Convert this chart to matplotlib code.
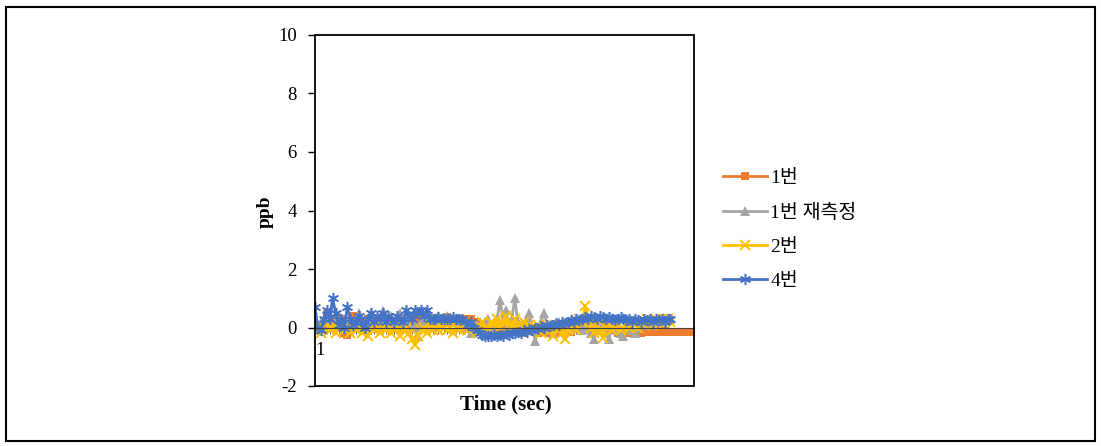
import matplotlib
matplotlib.use("Agg")
import matplotlib.pyplot as plt
from matplotlib.patches import Rectangle
import numpy as np

# ---- data ----
series_names = ["1번", "1번 재측정", "2번", "4번"]
s1 = [0.0, 0.1, 0.05, 0.2, 0.45, 0.1, 0.3, 0.0, 0.1, 0.3, -0.2, -0.25, 0.1, 0.4, 0.0, 0.1, 0.2, 0.1, 0.3, 0.0,
      0.2, 0.1, 0.2, 0.0, 0.1, 0.3, 0.1, 0.2, 0.0, 0.1, 0.2, 0.1, 0.3, 0.2, 0.1, 0.3, 0.2, 0.1, 0.2, 0.3,
      0.2, 0.3, 0.3, 0.2, 0.3, 0.35, 0.3, 0.2, 0.3, 0.3, 0.25, 0.3, 0.2, 0.3, 0.1, 0.2, 0.1, 0.0, 0.1, -0.1,
      0.0, -0.05, 0.1, -0.1, 0.0, -0.1, 0.1, -0.15, 0.0, -0.1, 0.05, -0.2, 0.0, -0.1, -0.05, 0.0, -0.2, -0.1, -0.15, 0.0,
      -0.2, -0.1, -0.2, -0.15, 0.0, -0.2, -0.1, -0.15, 0.0, 0.1, 0.0, -0.1, 0.05, 0.0, -0.1, 0.1, 0.0, -0.05, 0.1, -0.1,
      0.0, -0.05, -0.1, -0.2, -0.15, -0.2, -0.1, -0.2, -0.15, -0.2, -0.15, -0.2, -0.15, -0.1, -0.15, -0.15, -0.12, -0.15, -0.15, -0.13,
      -0.15, -0.15, -0.14, -0.15, -0.15, -0.16, -0.15, -0.15, -0.14, -0.15]
s1r = [0.1, -0.1, 0.2, 0.0, 0.15, 0.3, 0.0, 0.2, 0.4, 0.1, 0.2, 0.0, 0.3, 0.1, 0.2, 0.5, 0.2, 0.1, 0.3, 0.5,
       0.2, 0.0, 0.3, 0.55, 0.2, 0.1, 0.4, 0.2, 0.3, 0.5, 0.1, 0.2, 0.4, 0.0, 0.1, -0.3, 0.2, 0.3, 0.1, 0.4,
       0.2, 0.3, 0.4, 0.3, 0.2, 0.4, 0.3, 0.2, 0.3, 0.1, 0.2, 0.0, 0.1, -0.2, 0.0, 0.1, -0.1, 0.0, 0.2, 0.3,
       0.0, 0.1, 0.3, 0.95, 0.2, 0.6, 0.1, 0.3, 1.0, 0.2, 0.1, 0.0, 0.3, 0.5, -0.1, -0.45, 0.0, 0.2, 0.5, 0.1,
       0.0, -0.2, 0.1, 0.2, 0.0, -0.1, 0.1, 0.2, 0.0, 0.3, 0.1, -0.1, 0.0, 0.2, -0.2, -0.4, 0.0, 0.1, -0.1, -0.2,
       -0.4, 0.0, 0.1, -0.1, -0.2, -0.3, 0.0, 0.1, -0.1, -0.2, 0.0, 0.1, 0.2, 0.1, 0.2, 0.1, 0.2, 0.25, 0.2, 0.3,
       0.25, 0.3]
s2 = [-0.1, 0.1, -0.2, 0.0, 0.2, -0.1, 0.1, -0.2, 0.0, 0.2, -0.1, 0.0, -0.2, 0.1, -0.1, 0.0, -0.2, 0.1, -0.3, 0.0,
      -0.1, 0.1, -0.2, 0.0, -0.1, 0.1, -0.2, -0.1, 0.0, -0.3, -0.1, 0.0, -0.2, -0.4, -0.6, -0.3, -0.1, 0.0, -0.2, 0.1,
      -0.1, 0.0, -0.1, 0.1, 0.0, -0.1, 0.0, -0.2, 0.0, -0.1, 0.1, 0.0, -0.1, 0.1, 0.0, -0.2, 0.0, 0.2, -0.1, 0.0,
      0.2, 0.1, 0.3, 0.0, 0.2, 0.4, 0.1, 0.0, 0.3, 0.1, -0.1, 0.2, 0.0, 0.1, -0.1, 0.0, 0.1, -0.2, 0.0, 0.1,
      -0.1, -0.3, 0.0, 0.1, -0.2, -0.4, -0.1, 0.1, 0.0, -0.1, 0.3, 0.2, 0.75, 0.3, 0.0, -0.2, 0.1, -0.1, -0.35, 0.0,
      0.2, -0.1, 0.0, 0.1, -0.1, 0.0, 0.1, 0.0, 0.2, 0.1, 0.0, 0.2, 0.1, 0.3, 0.2, 0.1, 0.3, 0.2, 0.3, 0.2,
      0.3, 0.2]
s4 = [0.7, 0.0, -0.1, 0.3, 0.6, 0.3, 1.0, 0.5, 0.1, 0.3, 0.0, 0.7, 0.3, 0.1, 0.2, 0.4, 0.2, 0.0, 0.3, 0.5,
      0.2, 0.4, 0.3, 0.5, 0.2, 0.4, 0.3, 0.2, 0.4, 0.3, 0.2, 0.6, 0.4, 0.3, 0.6, 0.5, 0.6, 0.4, 0.6, 0.3,
      0.3, 0.3, 0.35, 0.3, 0.3, 0.3, 0.3, 0.35, 0.3, 0.3, 0.3, 0.2, 0.1, 0.2, 0.0, -0.1, -0.2, -0.25, -0.3, -0.3,
      -0.3, -0.25, -0.3, -0.25, -0.3, -0.2, -0.25, -0.2, -0.2, -0.15, -0.2, -0.1, -0.15, -0.05, -0.1, 0.0, -0.05, 0.05, 0.0, 0.1,
      0.05, 0.1, 0.15, 0.1, 0.2, 0.15, 0.2, 0.25, 0.2, 0.3, 0.25, 0.3, 0.35, 0.3, 0.4, 0.35, 0.3, 0.4, 0.35, 0.3,
      0.35, 0.3, 0.25, 0.3, 0.35, 0.3, 0.25, 0.3, 0.2, 0.3, 0.25, 0.2, 0.3, 0.25, 0.3, 0.2, 0.3, 0.25, 0.3, 0.2,
      0.3, 0.3]
y_ticks = [-2, 0, 2, 4, 6, 8, 10]
x_label = "Time (sec)"
y_label = "ppb"

serif = ["Liberation Serif", "Noto Sans CJK KR", "DejaVu Sans"]
plt.rcParams["font.family"] = serif

fig = plt.figure(figsize=(11.01, 4.46), dpi=100)
ax = fig.add_axes([315 / 1101, 1 - 386 / 446, (694 - 315) / 1101, (386 - 35) / 446])

styles = [
    dict(color="#ED7D31", marker="s", ms=6, mew=0),
    dict(color="#A5A5A5", marker="^", ms=7, mew=0),
    dict(color="#FFC000", marker="x", ms=7, mew=1.4),
    dict(color="#4472C4", marker=(6, 2, 0), ms=8, mew=1.1),
]
for name, data, st in zip(series_names, [s1, s1r, s2, s4], styles):
    x = np.arange(1, len(data) + 1)
    ax.plot(x, data, lw=2.0, label=name, **st)

n_max = len(s1)
ax.set_xlim(1, n_max)
ax.set_ylim(-2, 10)
ax.set_yticks(y_ticks)
ax.set_yticklabels([str(t) for t in y_ticks], fontsize=13.5)
ax.tick_params(axis="y", direction="out", length=5, width=1, pad=8)

# category axis crossing at 0
for s in ["top", "right", "left"]:
    ax.spines[s].set_visible(False)
ax.spines["bottom"].set_position(("data", 0))
ax.spines["bottom"].set_color("#404040")
ax.spines["bottom"].set_linewidth(0.8)
xt = np.arange(1, n_max + 1)
ax.set_xticks(xt)
ax.set_xticklabels([""] * n_max)
ax.tick_params(axis="x", direction="out", length=4, width=0.6, color="#404040")
ax.text(1, -0.78, "1", ha="left", va="center", fontsize=13.5, zorder=12)

ax.add_patch(Rectangle((0, 0), 1, 1, transform=ax.transAxes, fill=False,
                       edgecolor="black", lw=1.3, clip_on=False, zorder=10))

fig.text(506 / 1101, 1 - 404 / 446, x_label, ha="center", va="center",
         fontsize=15, fontweight="bold")
fig.text(265 / 1101, 1 - 212 / 446, y_label, ha="center", va="center",
         fontsize=14, fontweight="bold", rotation=90)

handles, labels = ax.get_legend_handles_labels()
fig.legend(handles, labels, loc="upper left", bbox_to_anchor=(705 / 1101, 1 - 152 / 446),
           frameon=False, handlelength=2.3, labelspacing=0.84,
           handletextpad=0.15, prop={"family": serif, "size": 14})

fig.add_artist(Rectangle((6 / 1101, 1 - 441 / 446), (1095 - 6) / 1101, (441 - 7) / 446,
                         transform=fig.transFigure, fill=False, edgecolor="black", lw=1.5))

fig.savefig("out.png", dpi=100)
